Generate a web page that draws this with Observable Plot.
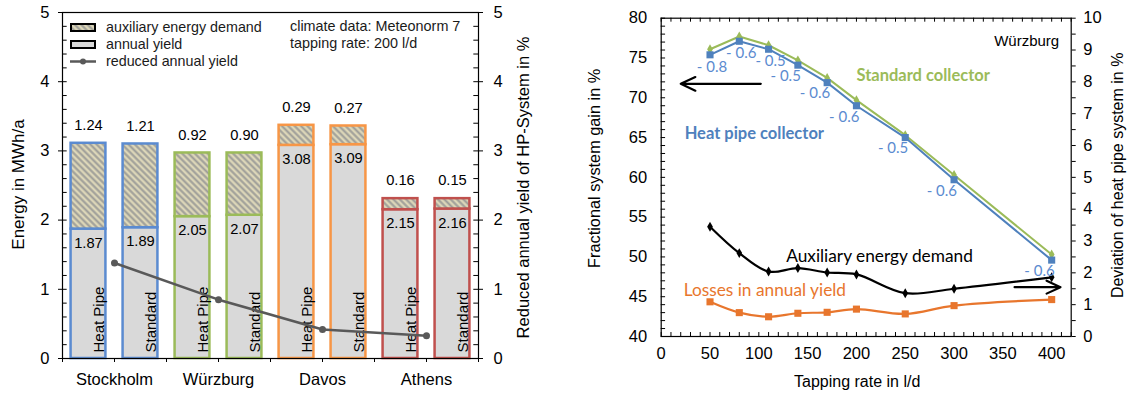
<!DOCTYPE html>
<html>
<head>
<meta charset="utf-8">
<script src="https://cdn.jsdelivr.net/npm/d3@7"></script>
<script src="https://cdn.jsdelivr.net/npm/@observablehq/plot@0.6"></script>
<style>
  body { margin: 0; background: #fff; font-family: "Liberation Sans", Arial, sans-serif; }
  #wrap { position: relative; width: 1128px; height: 401px; overflow: hidden; background: #fff; }
  #left { position: absolute; left: 0; top: 0; }
  #right { position: absolute; left: 565px; top: 0; }
  .legend { position: absolute; left: 70px; top: 19px; font-size: 14.3px; color: #1a1a1a; line-height: 17px; }
  .legend div { display: flex; align-items: center; height: 17px; }
  .legend svg { margin-right: 10px; }
  .note { position: absolute; left: 290px; top: 18px; font-size: 14.4px; color: #1a1a1a; line-height: 17px; }
</style>
</head>
<body>
<svg width="0" height="0" style="position:absolute">
  <defs>
    <pattern id="hatch" patternUnits="userSpaceOnUse" width="4.5" height="4.5" patternTransform="rotate(45)">
      <rect width="4.5" height="4.5" fill="#dcd6b8"/>
      <line x1="0" y1="2.25" x2="4.5" y2="2.25" stroke="#9c9c98" stroke-width="2"/>
    </pattern>
  </defs>
</svg>
<div id="wrap">
  <div id="left"></div>
  <div id="right"></div>
  <div class="legend">
    <div><svg width="26" height="9"><rect x="1" y="1" width="24" height="7" fill="url(#hatch)" stroke="#000" stroke-width="2"/></svg>auxiliary energy demand</div>
    <div><svg width="26" height="9"><rect x="1" y="1" width="24" height="7" fill="#d9d9d9" stroke="#000" stroke-width="2"/></svg>annual yield</div>
    <div><svg width="26" height="9"><line x1="0" y1="4.5" x2="26" y2="4.5" stroke="#595959" stroke-width="2.5"/><circle cx="13" cy="4.5" r="3" fill="#595959"/></svg>reduced annual yield</div>
  </div>
  <div class="note">climate data: Meteonorm 7<br>tapping rate: 200 l/d</div>
</div>
<script>
// ---------- Left panel data ----------
const cities = ["Stockholm", "Würzburg", "Davos", "Athens"];
const cityColors = ["#5b8bd0", "#9bbb59", "#f79646", "#c0504d"];
const collectorTypes = ["Heat Pipe", "Standard"];
const annualYield = [1.87, 1.89, 2.05, 2.07, 3.08, 3.09, 2.15, 2.16];
const auxDemand = [1.24, 1.21, 0.92, 0.90, 0.29, 0.27, 0.16, 0.15];
const reducedYield = [1.38, 0.85, 0.42, 0.33];
const energyTicks = [0, 1, 2, 3, 4, 5];

// ---------- Right panel data ----------
const tappingRates = [50, 80, 110, 140, 170, 200, 250, 300, 400];
const standardGain = [76.1, 77.7, 76.6, 74.7, 72.5, 69.7, 65.3, 60.3, 50.3];
const heatPipeGain = [75.4, 77.1, 76.1, 74.1, 71.9, 69.0, 65.0, 59.7, 49.6];
const gainDeviation = ["- 0.8", "- 0.6", "- 0.5", "- 0.5", "- 0.6", "- 0.6", "- 0.5", "- 0.6", "- 0.6"];
const auxDeviation = [3.45, 2.62, 2.04, 2.15, 2.01, 1.95, 1.36, 1.50, 1.86];
const lossDeviation = [1.09, 0.75, 0.62, 0.73, 0.76, 0.86, 0.71, 0.97, 1.16];
const gainTicks = [40, 45, 50, 55, 60, 65, 70, 75, 80];
const deviationTicks = [0, 1, 2, 3, 4, 5, 6, 7, 8, 9, 10];
const rateTicks = [0, 50, 100, 150, 200, 250, 300, 350, 400];

// annotation labels (data coordinates: tapping rate, gain %)
const boldLabels = [
  {text: "Standard collector", x: 200, y: 72.8, color: "#9bbb59"},
  {text: "Heat pipe collector", x: 24, y: 65.5, color: "#4f81bd"}
];
const plainLabels = [
  {text: "Auxiliary energy demand", x: 128, y: 50.0, color: "#000000"},
  {text: "Losses in annual yield", x: 23, y: 45.8, color: "#e8762d"}
];
const axisArrows = [
  {x1: 102, y1: 71.75, x2: 20, y2: 71.75},
  {x1: 362, y1: 46.2, x2: 409, y2: 46.2}
];

// ---------- Left panel ----------
const barPad = 0.165;
const bars = annualYield.map((a, i) => ({
  slot: i,
  city: cities[Math.floor(i / 2)],
  type: collectorTypes[i % 2],
  annual: a,
  aux: auxDemand[i]
}));
const reduced = cities.map((c, i) => ({pos: 2 * i + 1, city: c, value: reducedYield[i]}));
const minorE = d3.range(0, 5.001, 0.2);

const fontMain = "Liberation Sans, Arial, sans-serif";

const left = Plot.plot({
  width: 565, height: 401,
  marginLeft: 62, marginRight: 87, marginTop: 12, marginBottom: 43,
  x: {domain: [0, 8], axis: null},
  y: {domain: [0, 5], axis: null},
  color: {domain: cities, range: cityColors},
  style: {fontFamily: fontMain, color: "#000", background: "transparent"},
  marks: [
    Plot.rectY(bars, {x1: d => d.slot + barPad, x2: d => d.slot + 1 - barPad, y1: 0, y2: "annual",
      fill: "#d9d9d9", stroke: "city", strokeWidth: 2.5}),
    Plot.rectY(bars, {x1: d => d.slot + barPad, x2: d => d.slot + 1 - barPad, y1: "annual", y2: d => d.annual + d.aux,
      fill: "url(#hatch)", stroke: "city", strokeWidth: 2.5}),
    Plot.text(bars, {x: d => d.slot + 0.5, y: d => d.annual + d.aux, text: d => d.aux.toFixed(2), dy: -18, fontSize: 14.7}),
    Plot.text(bars, {x: d => d.slot + 0.5, y: "annual", text: d => d.annual.toFixed(2), dy: 14, fontSize: 14.7}),
    Plot.text(bars, {x: d => d.slot + 0.5, y: 0, text: "type", rotate: -90, textAnchor: "start", lineAnchor: "bottom", dx: 15, dy: -6, fontSize: 15}),
    Plot.line(reduced, {x: "pos", y: "value", stroke: "#595959", strokeWidth: 2.5}),
    Plot.dot(reduced, {x: "pos", y: "value", fill: "#595959", r: 3.5}),
    Plot.frame({stroke: "#000", strokeWidth: 1.2}),
    Plot.ruleY(minorE, {y: d => d, x1: 0, x2: 0.09, stroke: "#000"}),
    Plot.ruleY(minorE, {y: d => d, x1: 7.91, x2: 8, stroke: "#000"}),
    Plot.axisY({ticks: energyTicks, tickFormat: d => d, tickSize: 4, tickPadding: 9, fontSize: 16.5, label: null}),
    Plot.axisY({anchor: "right", ticks: energyTicks, tickFormat: d => d, tickSize: 4, tickPadding: 11, fontSize: 16.5, label: null}),
    Plot.axisX({ticks: d3.range(0, 9), tickSize: 4, text: null, label: null}),
    Plot.axisX({ticks: [1, 3, 5, 7], tickFormat: v => cities[(v - 1) / 2], tickSize: 0, tickPadding: 15, fontSize: 16.5, label: null}),
    Plot.text(["Energy in MWh/a"], {frameAnchor: "left", textAnchor: "middle", text: d => d, rotate: -90, dx: -44, dy: -1, fontSize: 17}),
    Plot.text(["Reduced annual yield of HP-System in %"], {frameAnchor: "right", textAnchor: "middle", text: d => d, rotate: -90, dx: 45, dy: 2, fontSize: 16.5})
  ]
});
document.getElementById("left").append(left);

// ---------- Right panel ----------
const toGain = v => 40 + 4 * v; // right axis (0–10) mapped onto left axis (40–80)
const rows = tappingRates.map((r, i) => ({
  rate: r, std: standardGain[i], hp: heatPipeGain[i], dev: gainDeviation[i],
  aux: auxDeviation[i], loss: lossDeviation[i]
}));
const minorX = d3.range(0, 420.001, 10);
const minorYL = d3.range(40, 80.001, 1);
const minorYR = d3.range(0, 10.001, 0.5);
const calib = "Lato, 'Open Sans', sans-serif";

const right = Plot.plot({
  width: 563, height: 401,
  marginLeft: 95.7, marginRight: 57.3, marginTop: 17.7, marginBottom: 65,
  x: {domain: [0, 420], axis: null},
  y: {domain: [40, 80], axis: null},
  style: {fontFamily: fontMain, color: "#000", background: "transparent"},
  marks: [
    Plot.frame({stroke: "#000", strokeWidth: 1.2}),
    Plot.ruleX(minorX, {x: d => d, y1: 40, y2: 40.5, stroke: "#000"}),
    Plot.ruleX(minorX, {x: d => d, y1: 79.5, y2: 80, stroke: "#000"}),
    Plot.ruleY(minorYL, {y: d => d, x1: 0, x2: 4.5, stroke: "#000"}),
    Plot.axisY({anchor: "right", ticks: minorYR.map(toGain), tickSize: 4, text: null, label: null}),
    Plot.axisY({ticks: gainTicks, tickFormat: d => d, tickSize: 0, tickPadding: 14, fontSize: 16.5, label: null}),
    Plot.axisY({anchor: "right", ticks: deviationTicks.map(toGain), tickFormat: v => (v - 40) / 4, tickSize: 0, tickPadding: 12, fontSize: 16.5, label: null}),
    Plot.axisX({ticks: rateTicks, tickFormat: d => d, tickSize: 0, tickPadding: 11, fontSize: 16.5, label: null}),
    // Losses
    Plot.line(rows, {x: "rate", y: d => toGain(d.loss), stroke: "#e8762d", strokeWidth: 2.2, curve: "catmull-rom"}),
    Plot.dot(rows, {x: "rate", y: d => toGain(d.loss), symbol: "square", fill: "#e8762d", r: 4}),
    // Auxiliary
    Plot.line(rows, {x: "rate", y: d => toGain(d.aux), stroke: "#000", strokeWidth: 2.2, curve: "catmull-rom"}),
    Plot.dot(rows, {x: "rate", y: d => toGain(d.aux), symbol: "diamond", fill: "#000", r: 3}),
    // Standard & heat pipe
    Plot.line(rows, {x: "rate", y: "std", stroke: "#9bbb59", strokeWidth: 2}),
    Plot.dot(rows, {x: "rate", y: "std", symbol: "diamond", fill: "#9bbb59", r: 3}),
    Plot.line(rows, {x: "rate", y: "hp", stroke: "#4f81bd", strokeWidth: 2}),
    Plot.dot(rows, {x: "rate", y: "hp", symbol: "square", fill: "#4f81bd", r: 4}),
    Plot.text(rows.filter(d => d.rate <= 110), {x: "rate", y: "hp", text: "dev", dy: 12, dx: 2, fill: "#5b8bd0", fontSize: 15, fontFamily: calib}),
    Plot.text(rows.filter(d => d.rate > 110), {x: "rate", y: "hp", text: "dev", dy: 11, dx: 3, textAnchor: "end", fill: "#5b8bd0", fontSize: 15, fontFamily: calib}),
    // annotations
    Plot.text(boldLabels, {x: "x", y: "y", text: "text", fill: "color", fontWeight: "bold", textAnchor: "start", fontSize: 16.5, fontFamily: calib}),
    Plot.text(plainLabels, {x: "x", y: "y", text: "text", fill: "color", textAnchor: "start", fontSize: 17.3, fontFamily: calib}),
    Plot.arrow(axisArrows, {x1: "x1", y1: "y1", x2: "x2", y2: "y2", stroke: "#000", strokeWidth: 2.2, headLength: 11, headAngle: 50}),
    Plot.text(["Würzburg"], {frameAnchor: "top-right", textAnchor: "end", text: d => d, dx: -12, dy: 17, fontSize: 15}),
    Plot.text(["Fractional system gain in %"], {frameAnchor: "left", textAnchor: "middle", text: d => d, rotate: -90, dx: -66, dy: -9, fontSize: 16.3}),
    Plot.text(["Deviation of heat pipe system in %"], {frameAnchor: "right", textAnchor: "middle", text: d => d, rotate: -90, dx: 47, dy: -2, fontSize: 16}),
    Plot.text(["Tapping rate in l/d"], {frameAnchor: "bottom", textAnchor: "middle", text: d => d, dx: -9, dy: 50, fontSize: 16})
  ]
});
document.getElementById("right").append(right);
</script>
</body>
</html>
